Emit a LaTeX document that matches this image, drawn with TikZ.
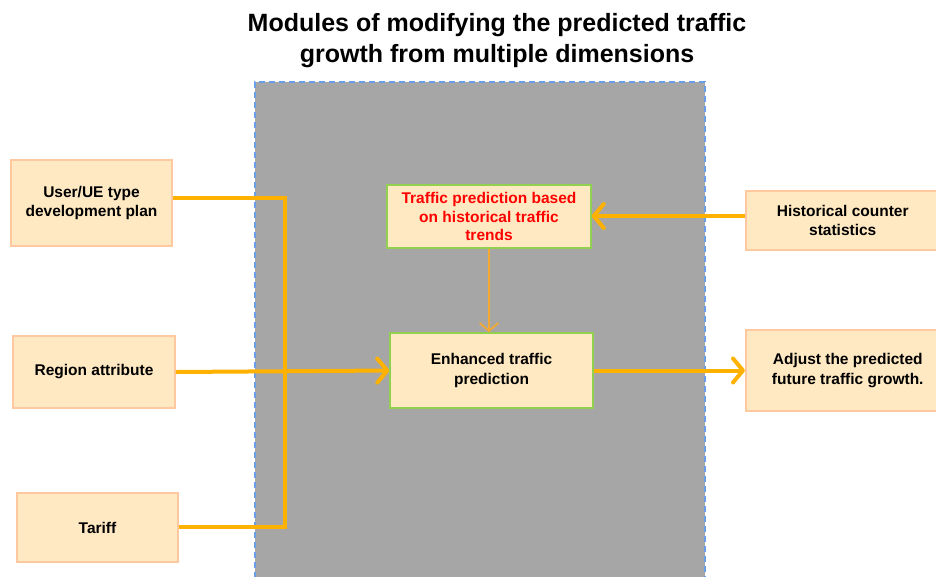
\documentclass[tikz,border=0pt]{standalone}
\usepackage{fontspec}
\setmainfont{Liberation Sans}
\usetikzlibrary{arrows.meta}
\definecolor{boxfill}{HTML}{FFE9C2}
\definecolor{boxline}{HTML}{FFC89E}
\definecolor{greenline}{HTML}{92D050}
\definecolor{arrowc}{HTML}{FFB100}
\definecolor{thinc}{HTML}{F2AA33}
\definecolor{grayfill}{HTML}{A6A6A6}
\definecolor{dashc}{HTML}{6A9EE8}
\tikzset{
  inbox/.style={draw=boxline, line width=1.5pt, fill=boxfill, font=\bfseries\fontsize{15.5}{19.5}\selectfont, align=center, inner sep=0pt},
  midbox/.style={draw=greenline, line width=1.5pt, fill=boxfill, font=\bfseries\fontsize{15.5}{18.5}\selectfont, align=center, inner sep=0pt},
  thickline/.style={draw=arrowc, line width=4pt},
  barb/.style={-{Straight Barb[length=10pt,width=24pt,line cap=round,line join=round]}},
  thinarrow/.style={draw=thinc, line width=1.8pt, -{Straight Barb[length=8pt,width=18pt,line cap=round]}},
}
\begin{document}
\begin{tikzpicture}[x=1pt,y=-1pt]
\useasboundingbox (0,0) rectangle (936,576);
\node (region) [draw=dashc, dashed, dash pattern=on 6pt off 4pt, line width=1.5pt, fill=grayfill, minimum width=450pt, minimum height=520pt, anchor=north west, inner sep=0pt] at (254,81) {};
\node (title) [font=\bfseries\fontsize{25}{31}\selectfont, align=center] at (497,40.5) {Modules of modifying the predicted traffic\\growth from multiple dimensions};
\node (ue) [inbox, minimum width=161pt, minimum height=86pt] at (91.5,203) {User/UE type\\development plan};
\node (reg) [inbox, minimum width=162pt, minimum height=72pt] at (94,372) {Region attribute};
\node (tar) [inbox, minimum width=161pt, minimum height=69pt] at (97.5,527.5) {Tariff};
\node (hist) [midbox, minimum width=204pt, minimum height=63pt, text=red] at (489,216.5) {Traffic prediction based\\on historical traffic\\trends};
\node (enh) [midbox, minimum width=203pt, minimum height=75pt, font=\bfseries\fontsize{15.5}{20}\selectfont] at (491.5,370.5) {Enhanced traffic\\prediction};
\node (cnt) [inbox, minimum width=194pt, minimum height=59pt, anchor=west] at (745,220.5) {Historical counter\\statistics};
\node (adj) [inbox, minimum width=204pt, minimum height=81pt, anchor=west] at (745,370.5) {Adjust the predicted\\future traffic growth.};
\coordinate (jt) at (285,198);
\coordinate (jb) at (285,527);
\draw[thickline, line join=miter] (ue.east |- 0,198) -- (jt) -- (jb) -- (tar.east |- 0,527);
\draw[thickline, barb] (reg.east) -- (enh.west);
\draw[thickline, barb] (cnt.west |- 0,216) -- (hist.east |- 0,216);
\draw[thickline, barb] (enh.east) -- (adj.west);
\draw[thinarrow] (hist.south) -- (hist.south |- enh.north);
\end{tikzpicture}
\end{document}
